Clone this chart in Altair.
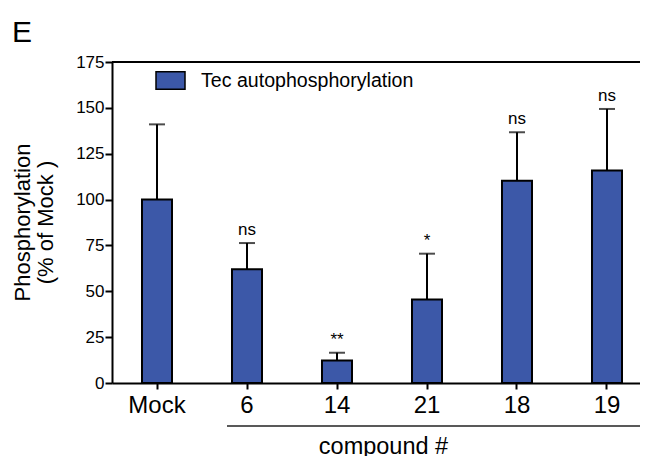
import altair as alt
import pandas as pd

categories = ["Mock", "6", "14", "21", "18", "19"]
means = [100, 62, 12.3, 45.5, 110.3, 115.8]
errors = [41, 14.3, 4.2, 25, 26.4, 33.6]
significance = ["", "ns", "**", "*", "ns", "ns"]
series_name = "Tec autophosphorylation"
panel_label = "E"
y_ticks = [0, 25, 50, 75, 100, 125, 150, 175]

df = pd.DataFrame({"compound": categories, "value": means, "err": errors, "sig": significance})
df["hi"] = df["value"] + df["err"]
df["series"] = series_name
one = pd.DataFrame({"label": [panel_label]})

FONT = "Liberation Sans"
BLUE = "#3c58a8"

x_scale = alt.Scale(paddingInner=2 / 3, paddingOuter=0.26667, align=0.625)
x = alt.X(
    "compound:N", sort=categories, scale=x_scale,
    axis=alt.Axis(
        title="compound #", labelAngle=0, labelFontSize=24, labelPadding=23,
        labelBaseline="alphabetic",
        labelFont=FONT, labelColor="black",
        tickSize=6, tickWidth=2, tickColor="black",
        domainWidth=2, domainColor="black",
        titleFontSize=23.5, titleFontWeight="normal", titleFont=FONT, titleColor="black",
        titleX=271, titleY=70, titleBaseline="alphabetic", titleAlign="center",
    ),
)
x_plain = alt.X("compound:N", sort=categories, scale=x_scale)
y_scale = alt.Scale(domain=[0, 175], nice=False)
y = alt.Y(
    "value:Q", scale=y_scale,
    axis=alt.Axis(
        values=y_ticks, title=["Phosphorylation", "(% of Mock )"],
        labelFontSize=17, labelFont=FONT, labelColor="black", labelPadding=1,
        tickSize=7, tickWidth=2, tickColor="black",
        domainWidth=2, domainColor="black", grid=False,
        titleFontSize=22, titleFontWeight="normal", titleFont=FONT, titleColor="black",
        titleAngle=270, titleX=-83, titleY=160, titleBaseline="alphabetic",
        titleAlign="center", titleLineHeight=23,
    ),
)

base = alt.Chart(df)

bars = base.mark_bar(stroke="black", strokeWidth=2).encode(
    x=x, y=y,
    fill=alt.Fill(
        "series:N", scale=alt.Scale(domain=[series_name], range=[BLUE]),
        legend=alt.Legend(
            orient="none", legendX=43, legendY=3, title=None,
            symbolType="M-1,-0.6H1V0.6H-1Z", symbolSize=841,
            symbolStrokeColor="black", symbolStrokeWidth=1.5, symbolOpacity=1,
            labelFontSize=19.6, labelFont=FONT, labelColor="black", labelOffset=15,
            labelLimit=0, padding=0,
        ),
    ),
)

err_rule = base.mark_rule(color="black", strokeWidth=2).encode(
    x=x_plain, y="value:Q", y2="hi:Q"
)
err_cap = base.mark_tick(color="black", thickness=2, size=16).encode(
    x=x_plain, y="hi:Q"
)
sig = base.mark_text(font=FONT, fontSize=17, baseline="alphabetic", dy=-8, color="black").encode(
    x=x_plain, y="hi:Q", text="sig:N"
)
top_line = alt.Chart(one).mark_rule(color="black", strokeWidth=2).encode(y=alt.datum(175))
group_line = alt.Chart(one).mark_rule(color="#222222", strokeWidth=1.5).encode(
    x=alt.value(115), x2=alt.value(528), y=alt.value(364)
)
panel = alt.Chart(one).mark_text(
    font=FONT, fontSize=30, align="left", baseline="alphabetic", color="black"
).encode(x=alt.value(-100), y=alt.value(-20), text="label:N")

chart = alt.layer(bars, err_rule, err_cap, sig, top_line, group_line, panel).properties(
    width=528, height=321,
    autosize=alt.AutoSizeParams(type="none"),
    padding={"left": 104, "top": 54, "right": 0, "bottom": 80},
).configure_view(stroke=None).configure(background="white")

chart.save("out.html", embed_options={"renderer": "svg", "actions": False})
